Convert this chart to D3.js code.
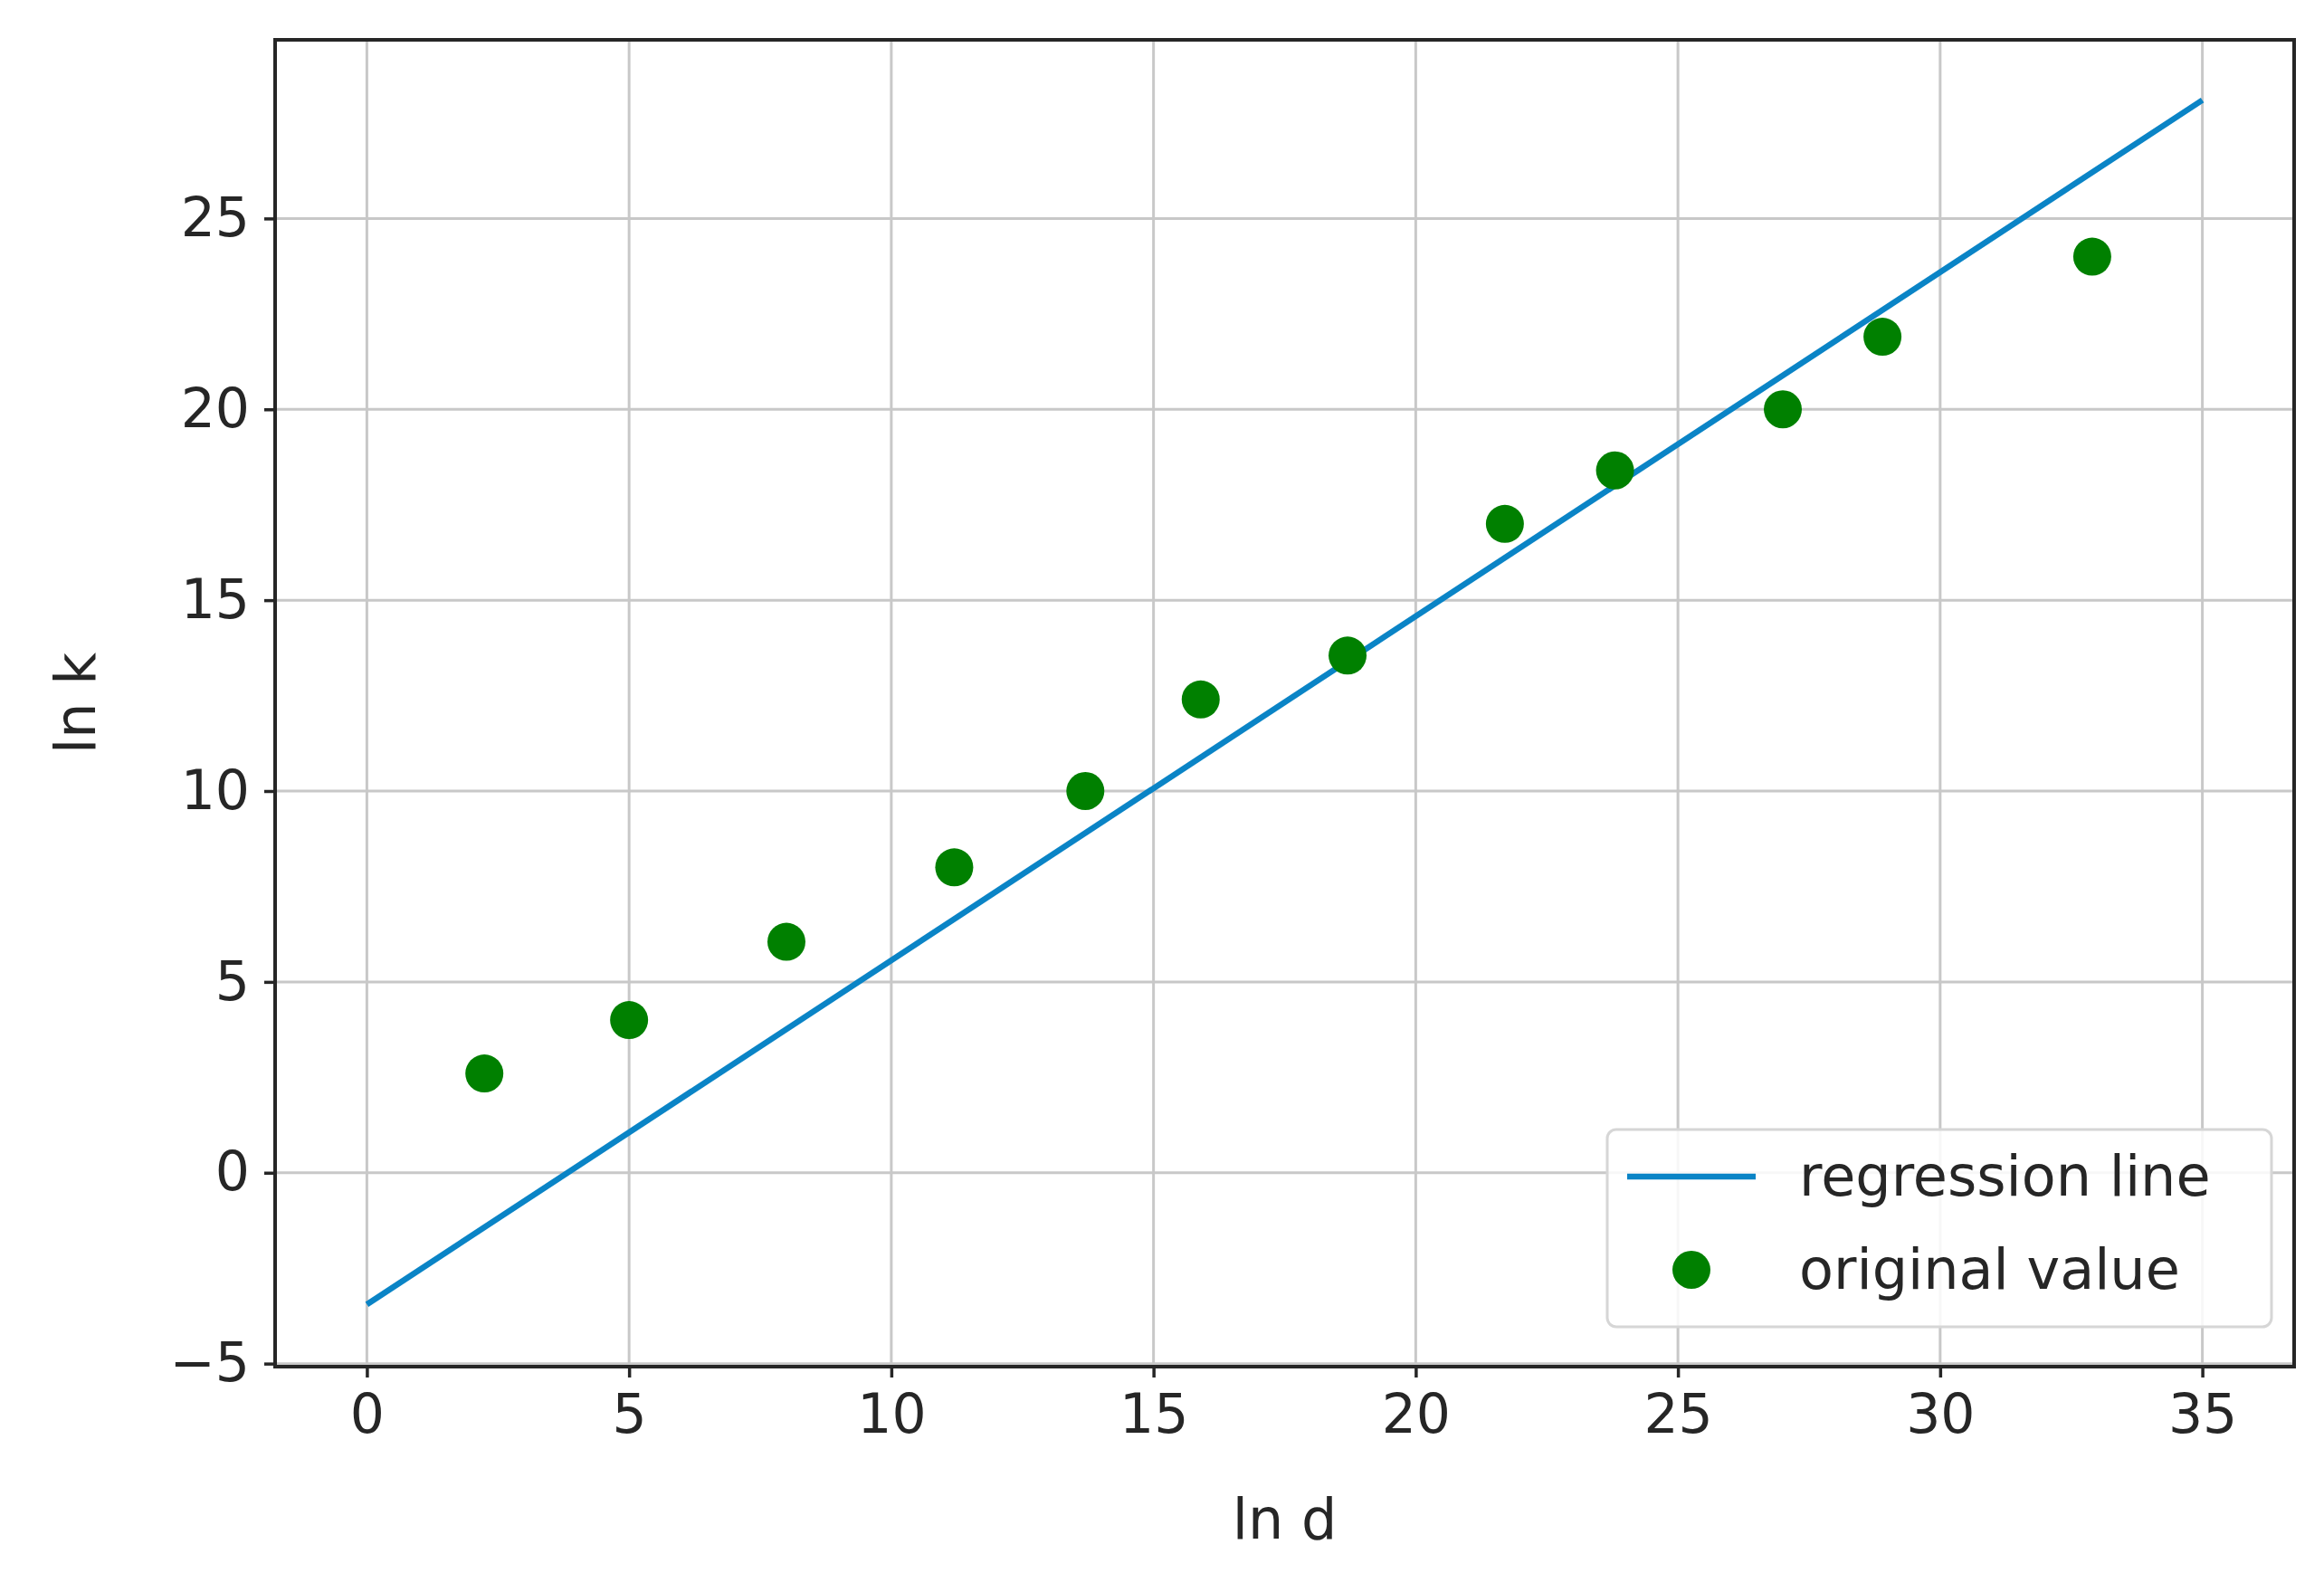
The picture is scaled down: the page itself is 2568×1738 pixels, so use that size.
<!DOCTYPE html>
<html><head><meta charset="utf-8">
<script src="https://cdn.jsdelivr.net/npm/d3@7"></script>
<style>body{margin:0;background:#fff}text{font-family:"DejaVu Sans",sans-serif;fill:#262626}</style>
</head><body><svg id="c" width="2568" height="1738"></svg>
<script>
const pointsX = [2.24, 5.0, 8.0, 11.2, 13.7, 15.9, 18.7, 21.7, 23.8, 27.0, 28.9, 32.9];
const pointsY = [2.6, 4.0, 6.05, 8.0, 10.0, 12.4, 13.55, 17.0, 18.4, 20.0, 21.9, 24.0];
const lineX = [0, 35];
const lineY = [-3.45, 28.1];
const xTicks = [0, 5, 10, 15, 20, 25, 30, 35];
const yTicks = [-5, 0, 5, 10, 15, 20, 25];
const legendLabels = ["regression line", "original value"];

const W = 2568, H = 1738, m = {l: 304, r: 33, t: 44, b: 228};
const svg = d3.select("#c");
const x = d3.scaleLinear().domain([-1.75, 36.75]).range([m.l, W - m.r]);
const y = d3.scaleLinear().domain([-5.08, 29.68]).range([H - m.b, m.t]);
const g = svg.append("g");
// grid
g.selectAll(".gx").data(xTicks).join("line").attr("x1", d => x(d)).attr("x2", d => x(d))
  .attr("y1", m.t).attr("y2", H - m.b).attr("stroke", "#c8c8c8").attr("stroke-width", 3);
g.selectAll(".gy").data(yTicks).join("line").attr("y1", d => y(d)).attr("y2", d => y(d))
  .attr("x1", m.l).attr("x2", W - m.r).attr("stroke", "#c8c8c8").attr("stroke-width", 3);
// line
svg.append("path").datum(lineX.map((d, i) => [d, lineY[i]]))
  .attr("d", d3.line().x(d => x(d[0])).y(d => y(d[1])))
  .attr("stroke", "#0a84c6").attr("stroke-width", 6.5).attr("fill", "none");
// points
svg.selectAll(".pt").data(pointsX).join("circle").attr("cx", d => x(d)).attr("cy", (d, i) => y(pointsY[i]))
  .attr("r", 21).attr("fill", "#008000");
// axes
const ax = svg.append("g").attr("transform", `translate(0,${H - m.b})`)
  .call(d3.axisBottom(x).tickValues(xTicks).tickSize(12).tickPadding(18).tickFormat(d3.format("d")));
const ay = svg.append("g").attr("transform", `translate(${m.l},0)`)
  .call(d3.axisLeft(y).tickValues(yTicks).tickSize(12).tickPadding(16).tickFormat(d => d < 0 ? "\u2212" + Math.abs(d) : d));
[ax, ay].forEach(a => {
  a.select(".domain").remove();
  a.selectAll("line").attr("stroke", "#262626").attr("stroke-width", 3.5);
  a.selectAll("text").attr("font-size", 60).attr("font-family", "DejaVu Sans").attr("fill", "#262626");
});
svg.append("rect").attr("x", m.l).attr("y", m.t).attr("width", W - m.l - m.r).attr("height", H - m.t - m.b)
  .attr("fill", "none").attr("stroke", "#262626").attr("stroke-width", 4);
// labels
svg.append("text").attr("x", (m.l + W - m.r) / 2).attr("y", 1700).attr("text-anchor", "middle")
  .attr("font-size", 62).text("ln d");
svg.append("text").attr("transform", `translate(105,${(m.t + H - m.b) / 2}) rotate(-90)`)
  .attr("text-anchor", "middle").attr("font-size", 62).text("ln k");
// legend
const lg = svg.append("g");
lg.append("rect").attr("x", 1776).attr("y", 1248).attr("width", 734).attr("height", 218).attr("rx", 10)
  .attr("fill", "rgba(255,255,255,0.85)").attr("stroke", "#d6d6d6").attr("stroke-width", 3);
lg.append("line").attr("x1", 1798).attr("x2", 1940).attr("y1", 1300).attr("y2", 1300)
  .attr("stroke", "#0a84c6").attr("stroke-width", 6.5);
lg.append("circle").attr("cx", 1869).attr("cy", 1403).attr("r", 21).attr("fill", "#008000");
lg.selectAll(".lt").data(legendLabels).join("text").attr("x", 1988).attr("y", (d, i) => 1321 + i * 103)
  .attr("font-size", 62).text(d => d);
</script></body></html>
